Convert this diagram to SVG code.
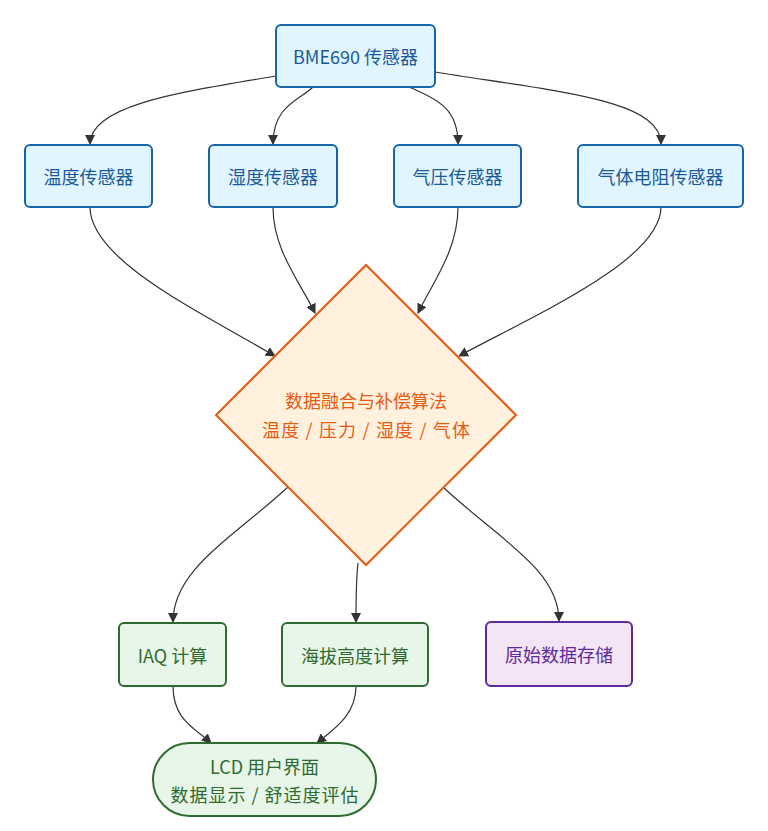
<svg xmlns="http://www.w3.org/2000/svg" width="768" height="831" viewBox="0 0 768 831">
<style>
.blue rect{fill:#e1f5fe;stroke:#1565a8;stroke-width:2}
.blue text{fill:#1a5a9a}
.green rect{fill:#e8f5e9;stroke:#2e6b30;stroke-width:2}
.green text{fill:#2e6b30}
.purple rect{fill:#f3e5f5;stroke:#5e2a9c;stroke-width:2}
.purple text{fill:#5e2a9c}
.orange polygon{fill:#fff1de;stroke:#e65c12;stroke-width:2}
.orange text{fill:#e65c12}
text{font-family:"Noto Sans CJK SC","Noto Sans",sans-serif;font-size:18px;text-anchor:middle;dominant-baseline:central}
.edges path{fill:none;stroke:#333;stroke-width:1.2}
</style>
<defs>
<marker id="arr" viewBox="0 0 10 10" refX="9" refY="5" markerWidth="10" markerHeight="10" markerUnits="userSpaceOnUse" orient="auto">
<path d="M0,0 L10,5 L0,10 z" fill="#333"/>
</marker>
</defs>
<g class="edges">
<path d="M276,76 C180,92 90,105 90,144" marker-end="url(#arr)"/>
<path d="M313,87 C300,100 273,105 273,144" marker-end="url(#arr)"/>
<path d="M409,87 C440,100 458,110 458,144" marker-end="url(#arr)"/>
<path d="M435,72 C560,92 661,100 661,144" marker-end="url(#arr)"/>
<path d="M90,207 C90,260 200,312 275,356" marker-end="url(#arr)"/>
<path d="M273,207 C273,250 300,282 315,313" marker-end="url(#arr)"/>
<path d="M458,207 C458,250 433,282 418,313" marker-end="url(#arr)"/>
<path d="M661,207 C661,260 535,315 459,356" marker-end="url(#arr)"/>
<path d="M288,487 C230,540 173,570 173,622" marker-end="url(#arr)"/>
<path d="M358,563 C356,580 356,600 356,622" marker-end="url(#arr)"/>
<path d="M444,488 C500,540 559,570 559,621" marker-end="url(#arr)"/>
<path d="M173,686 C173,720 195,728 211,743" marker-end="url(#arr)"/>
<path d="M356,686 C356,715 335,728 317,743" marker-end="url(#arr)"/>
</g>
<g id="bme" class="blue"><rect x="276" y="25" width="159" height="62" rx="5"/><text x="355.5" y="56">BME690 传感器</text></g>
<g id="temp" class="blue"><rect x="25" y="145" width="127" height="62" rx="5"/><text x="88.5" y="176">温度传感器</text></g>
<g id="hum" class="blue"><rect x="209" y="145" width="128" height="62" rx="5"/><text x="273" y="176">湿度传感器</text></g>
<g id="press" class="blue"><rect x="394" y="145" width="127" height="62" rx="5"/><text x="457.5" y="176">气压传感器</text></g>
<g id="gas" class="blue"><rect x="578" y="145" width="165" height="62" rx="5"/><text x="660.5" y="176">气体电阻传感器</text></g>
<g id="fusion" class="orange"><polygon points="366,265 516,415 366,565 216,415"/><text x="366" y="400">数据融合与补偿算法</text><text x="366" y="429" textLength="208" lengthAdjust="spacing">温度 / 压力 / 湿度 / 气体</text></g>
<g id="iaq" class="green"><rect x="119" y="623" width="107" height="63" rx="5"/><text x="172.5" y="654.5">IAQ 计算</text></g>
<g id="alt" class="green"><rect x="282" y="623" width="146" height="63" rx="5"/><text x="355" y="654.5">海拔高度计算</text></g>
<g id="raw" class="purple"><rect x="486" y="622" width="146" height="64" rx="5"/><text x="559" y="654">原始数据存储</text></g>
<g id="lcd" class="green"><rect x="153" y="743" width="223" height="73" rx="36.5"/><text x="264.5" y="766">LCD 用户界面</text><text x="264.5" y="794" textLength="188" lengthAdjust="spacing">数据显示 / 舒适度评估</text></g>
</svg>
